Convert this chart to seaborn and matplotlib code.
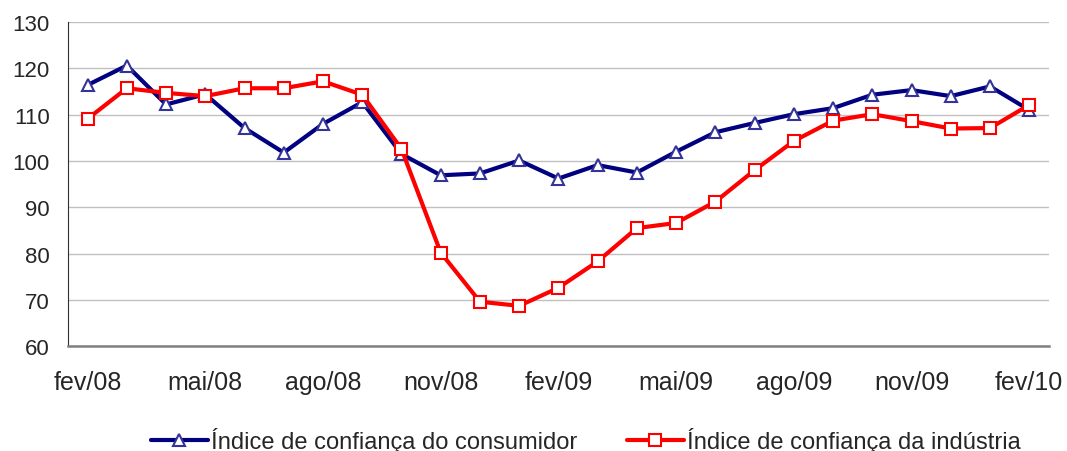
import numpy as np
import pandas as pd
import seaborn as sns
import matplotlib.pyplot as plt

# monthly series fev/08 .. fev/10
meses = ["fev/08", "mar/08", "abr/08", "mai/08", "jun/08", "jul/08", "ago/08",
         "set/08", "out/08", "nov/08", "dez/08", "jan/09", "fev/09", "mar/09",
         "abr/09", "mai/09", "jun/09", "jul/09", "ago/09", "set/09", "out/09",
         "nov/09", "dez/09", "jan/10", "fev/10"]
consumidor = [116.4, 120.6, 112.2, 114.4, 107.1, 101.8, 108.0, 112.7, 101.5, 96.9,
              97.3, 100.1, 96.2, 99.1, 97.5, 102.0, 106.2, 108.2, 110.1, 111.4,
              114.3, 115.3, 114.0, 116.1, 111.0]
industria = [109.1, 115.7, 114.7, 114.0, 115.7, 115.7, 117.2, 114.3, 102.6, 80.2,
             69.6, 68.7, 72.6, 78.3, 85.5, 86.6, 91.2, 98.0, 104.3, 108.7,
             110.1, 108.6, 107.0, 107.1, 112.1]
nomes = ["Índice de confiança do consumidor", "Índice de confiança da indústria"]

sns.set_style("white")
plt.rcParams['font.family'] = ['Liberation Sans', 'DejaVu Sans']

df = pd.DataFrame({"idx": np.arange(len(meses)),
                   nomes[0]: consumidor, nomes[1]: industria})

fig = plt.figure(figsize=(10.67, 4.52), dpi=100)
ax = fig.add_axes([0.0637, 0.232, 0.9193, 0.717])

sns.lineplot(data=df, x="idx", y=nomes[0], ax=ax, color="#000080", lw=3.0,
             marker="^", markersize=9, markerfacecolor="white",
             markeredgecolor="#333399", markeredgewidth=1.5, label=nomes[0])
sns.lineplot(data=df, x="idx", y=nomes[1], ax=ax, color="#FF0000", lw=3.0,
             marker="s", markersize=9, markerfacecolor="white",
             markeredgecolor="#FF0000", markeredgewidth=1.5, label=nomes[1])

ax.set_xlim(-0.5, len(meses) - 0.5)
ax.set_ylim(60, 130)
ax.set_yticks(range(60, 131, 10))
ax.yaxis.grid(True, color="#C0C0C0", lw=1)
ax.xaxis.grid(False)

# tick marks between months, labels on every third month
ax.set_xticks(np.arange(-0.5, len(meses) - 1, 3))
ax.set_xticklabels([])
ax.set_xticks(np.arange(0, len(meses), 3), minor=True)
ax.set_xticklabels(meses[::3], minor=True)
ax.tick_params(axis="x", which="major", length=6, width=1, color="#404040", direction="out")
ax.tick_params(axis="x", which="minor", length=0, pad=17.5, labelsize=18)
ax.tick_params(axis="y", length=6, width=1, color="#404040", direction="out", labelsize=16, pad=7)

ax.set_xlabel("")
ax.set_ylabel("")
for s in ["top", "right"]:
    ax.spines[s].set_visible(False)
ax.spines["left"].set_color("#303030")
ax.spines["bottom"].set_color("#808080")
ax.spines["bottom"].set_linewidth(1.8)

ax.legend(loc="center", bbox_to_anchor=(586 / 1067, 11 / 452), bbox_transform=fig.transFigure,
          ncol=2, frameon=False, fontsize=17, handlelength=2.4, handletextpad=0.15,
          columnspacing=2.1, borderpad=0)

fig.savefig("out.png", dpi=100)
